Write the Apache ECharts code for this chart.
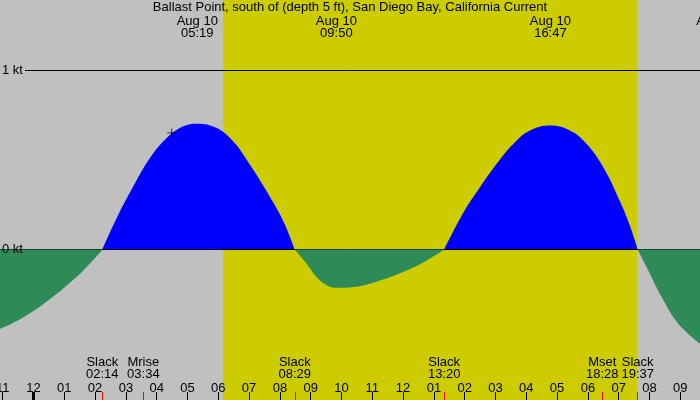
<!DOCTYPE html>
<html>
<head>
<meta charset="utf-8">
<script src="https://cdn.jsdelivr.net/npm/echarts@6/dist/echarts.min.js"></script>
<style>
  html, body { margin: 0; padding: 0; background: #c0c0c0; }
  #main { width: 700px; height: 400px; }
</style>
</head>
<body>
<div id="main"></div>
<script>
// time = hours after midnight Aug 10, current in knots (+ flood, - ebb)
const ebbBefore = [[-1.088, -0.444], [-0.546, -0.40], [0, -0.344], [0.536, -0.277], [1.078, -0.201], [1.617, -0.117], [2.159, -0.017], [2.233, 0]];
const flood1 = [[2.233, 0], [2.701, 0.176], [3.24, 0.353], [3.782, 0.511], [4.325, 0.623], [4.864, 0.688], [5.317, 0.703], [5.948, 0.679], [6.487, 0.604], [7.029, 0.474], [7.571, 0.325], [8.11, 0.158], [8.483, 0]];
const ebb2 = [[8.483, 0], [8.87, -0.08], [9.195, -0.155], [9.52, -0.20], [9.833, -0.214], [10.383, -0.21], [11.25, -0.173], [12.117, -0.117], [12.766, -0.061], [13.333, 0]];
const flood2 = [[13.333, 0], [13.955, 0.205], [14.497, 0.348], [15.039, 0.479], [15.578, 0.59], [16.12, 0.665], [16.783, 0.693], [17.42, 0.665], [17.96, 0.59], [18.5, 0.46], [19.04, 0.27], [19.37, 0.13], [19.617, 0]];
const ebb3 = [[19.617, 0], [19.961, -0.117], [20.396, -0.266], [20.935, -0.415], [21.64, -0.527]];
const nowMark = [[4.487, 0.651]];

const hourValues = [-1, 0, 1, 2, 3, 4, 5, 6, 7, 8, 9, 10, 11, 12, 13, 14, 15, 16, 17, 18, 19, 20, 21];
const hourLabels = ['11', '12', '01', '02', '03', '04', '05', '06', '07', '08', '09', '10', '11', '12', '01', '02', '03', '04', '05', '06', '07', '08', '09'];

const maxTimes = ['05:19', '09:50', '16:47', '22:11'];
const eventNames = ['Slack', 'Mrise', 'Slack', 'Slack', 'Mset', 'Slack'];
const eventTimes = ['02:14', '03:34', '08:29', '13:20', '18:28', '19:37'];
const sunrise = '06:09', sunset = '19:36';

const title = 'Ballast Point, south of (depth 5 ft), San Diego Bay, California Current';
const font = 'Liberation Sans, Arial, sans-serif';

function hrs(s) { const p = s.split(':'); return +p[0] + p[1] / 60; }
const maxX = maxTimes.map(hrs);
const eventX = eventTimes.map(hrs);
function nearest(list, v) {
  let best = 0;
  list.forEach((x, i) => { if (Math.abs(x - v) < Math.abs(list[best] - v)) best = i; });
  return best;
}

const xMin = -1.0877, pxPerHour = 30.8, gridW = 760;
const xMax = xMin + gridW / pxPerHour;
const yMin = -0.8408, yMax = 1.3939;

const baseX = {
  type: 'value', min: xMin, max: xMax, position: 'bottom', z: 20,
  axisLine: { show: false, onZero: false }, splitLine: { show: false }
};
const lbl = { color: '#000', fontSize: 13, fontFamily: font, lineHeight: 12 };

function lobe(data, color, z, extra) {
  return Object.assign({
    type: 'line', data: data, smooth: 0.4, symbol: 'none', z: z,
    lineStyle: { width: 0, opacity: 0 },
    areaStyle: { color: color, opacity: 1 }
  }, extra || {});
}

var myChart = echarts.init(document.getElementById('main'));
myChart.setOption({
  animation: false,
  backgroundColor: '#c0c0c0',
  title: {
    text: title, left: 'center', top: 1, padding: 0,
    textStyle: { fontSize: 13, fontWeight: 'normal', color: '#000', fontFamily: font }
  },
  grid: { left: 0, top: 0, width: gridW, height: 400, containLabel: false, outerBoundsMode: 'none' },
  xAxis: [
    Object.assign({}, baseX, {
      axisTick: { inside: true, length: 8, customValues: hourValues, lineStyle: { color: '#000', width: 1 } },
      axisLabel: Object.assign({ inside: true, margin: 6, customValues: hourValues,
        formatter: v => hourLabels[nearest(hourValues, v)] }, lbl)
    }),
    Object.assign({}, baseX, {
      axisTick: { inside: true, length: 8, customValues: eventX, lineStyle: { color: '#ff0000', width: 1 } },
      axisLabel: Object.assign({ inside: true, margin: 20, customValues: eventX,
        formatter: v => { const i = nearest(eventX, v); return eventNames[i] + '\n' + eventTimes[i]; } }, lbl)
    }),
    Object.assign({}, baseX, {
      axisTick: { inside: true, length: 8, customValues: [0], lineStyle: { color: '#000', width: 3 } },
      axisLabel: { show: false }
    }),
    Object.assign({}, baseX, {
      position: 'top',
      axisTick: { show: false },
      axisLabel: Object.assign({ inside: true, margin: 15, customValues: maxX,
        formatter: v => 'Aug 10\n' + maxTimes[nearest(maxX, v)] }, lbl)
    })
  ],
  yAxis: {
    type: 'value', min: yMin, max: yMax, z: 20,
    axisLine: { show: false, onZero: false }, axisTick: { show: false }, splitLine: { show: false },
    axisLabel: {
      inside: true, margin: 0, customValues: [0, 1],
      formatter: v => v > 0.5 ? '{a|1 kt}' : '{b|0 kt}',
      rich: {
        a: { color: '#000', fontSize: 13, fontFamily: font, backgroundColor: '#c0c0c0', padding: [1, 2, 1, 2] },
        b: { color: '#000', fontSize: 13, fontFamily: font, padding: [1, 2, 1, 2] }
      }
    }
  },
  series: [
    lobe(flood1, '#0000ff', 2, {
      markArea: {
        silent: true, z: 1,
        itemStyle: { color: '#cccc00' },
        data: [[{ xAxis: hrs(sunrise) }, { xAxis: hrs(sunset) }]]
      },
      markLine: {
        silent: true, z: 5, symbol: 'none',
        label: { show: false },
        lineStyle: { color: '#000', width: 1, type: 'solid' },
        data: [{ yAxis: 0 }, { yAxis: 1 }]
      }
    }),
    lobe(flood2, '#0000ff', 2),
    lobe(ebbBefore, '#2e8b57', 10),
    lobe(ebb2, '#2e8b57', 10),
    lobe(ebb3, '#2e8b57', 10),
    {
      type: 'scatter', data: nowMark, z: 12,
      symbol: 'path://M0,5L10,5M5,0L5,10', symbolSize: 9,
      itemStyle: { color: 'transparent', borderColor: '#000', borderWidth: 1 }
    }
  ]
});
</script>
</body>
</html>
